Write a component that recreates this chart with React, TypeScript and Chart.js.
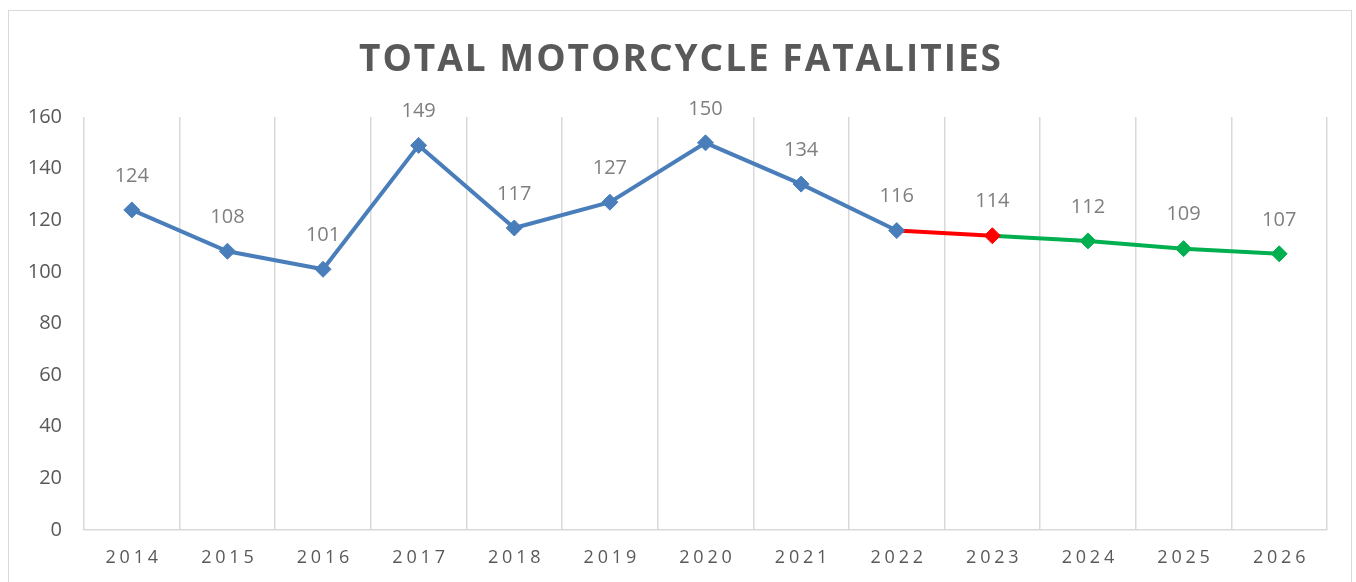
import { useEffect, useRef } from 'react';
import { Chart, registerables } from 'chart.js';

Chart.register(...registerables);

const chartTitle = 'TOTAL MOTORCYCLE FATALITIES';
const years = ['2014', '2015', '2016', '2017', '2018', '2019', '2020', '2021', '2022', '2023', '2024', '2025', '2026'];
const fatalities = [124, 108, 101, 149, 117, 127, 150, 134, 116, 114, 112, 109, 107];
const lastActualYear = '2022';
const firstForecastYear = '2023';
const yMin = 0;
const yMax = 160;
const yStep = 20;

const BLUE = '#4a7ebb';
const RED = '#ff0000';
const GREEN = '#00b050';
const GRID = '#d9d9d9';
const FONT = '"Open Sans", "Liberation Sans", sans-serif';

function colorFor(i: number): string {
  const y = years[i];
  if (y <= lastActualYear) return BLUE;
  if (y === firstForecastYear) return RED;
  return GREEN;
}

const decorPlugin = {
  id: 'decor',
  afterDraw(chart: any) {
    const ctx: CanvasRenderingContext2D = chart.ctx;
    const xs = chart.scales.x;
    const meta = chart.getDatasetMeta(0);
    ctx.save();

    // Title
    ctx.font = `bold 37px ${FONT}`;
    ctx.fillStyle = '#595959';
    ctx.textBaseline = 'middle';
    ctx.textAlign = 'left';
    (ctx as any).letterSpacing = '0px';
    const w0 = ctx.measureText(chartTitle).width;
    const targetW = 642;
    const s = Math.max(0, (targetW - w0) / (chartTitle.length - 1));
    (ctx as any).letterSpacing = `${s}px`;
    ctx.fillText(chartTitle, chart.width / 2 - targetW / 2, 49);

    // X labels with letter spacing
    ctx.font = `18px ${FONT}`;
    const ls = 3.8;
    (ctx as any).letterSpacing = `${ls}px`;
    ctx.fillStyle = '#595959';
    years.forEach((y, i) => {
      const cx = xs.getPixelForValue(i);
      const w = ctx.measureText(y).width - ls;
      ctx.fillText(y, cx - w / 2, 547);
    });

    // Data labels
    (ctx as any).letterSpacing = '0px';
    ctx.font = `20px ${FONT}`;
    ctx.fillStyle = '#7f7f7f';
    ctx.textAlign = 'center';
    meta.data.forEach((pt: any, i: number) => {
      ctx.fillText(String(fatalities[i]), pt.x, pt.y - 34);
    });
    ctx.restore();
  },
};

export default function App() {
  const canvasRef = useRef<HTMLCanvasElement | null>(null);

  useEffect(() => {
    if (!canvasRef.current) return;
    const chart = new Chart(canvasRef.current, {
      type: 'line',
      data: {
        labels: years,
        datasets: [
          {
            data: fatalities,
            borderWidth: 4,
            borderColor: BLUE,
            segment: {
              borderColor: (c: any) => colorFor(c.p1DataIndex),
            },
            pointStyle: 'rectRot',
            pointRadius: 8,
            pointBorderWidth: 1,
            pointBackgroundColor: years.map((_, i) => colorFor(i)),
            pointBorderColor: years.map((_, i) => colorFor(i)),
            tension: 0,
            fill: false,
          },
        ],
      },
      options: {
        animation: false,
        responsive: true,
        maintainAspectRatio: false,
        layout: { padding: { top: 106, right: 24, left: 0, bottom: 0 } },
        plugins: {
          legend: { display: false },
          tooltip: { enabled: false },
          title: { display: false },
        },
        scales: {
          x: {
            type: 'category',
            offset: true,
            grid: { display: true, offset: true, color: GRID, lineWidth: 1.5, drawTicks: false },
            border: { display: true, color: GRID, width: 1.5 },
            ticks: { display: false },
            afterFit: (scale: any) => {
              scale.height = 52;
            },
          },
          y: {
            min: yMin,
            max: yMax,
            grid: { display: false, drawTicks: false },
            border: { display: false },
            ticks: {
              stepSize: yStep,
              padding: 22,
              color: '#595959',
              font: { family: FONT, size: 20 },
            },
            afterFit: (scale: any) => {
              scale.width = 75;
            },
          },
        },
      },
      plugins: [decorPlugin],
    });
    return () => chart.destroy();
  }, []);

  return (
    <div
      style={{
        position: 'fixed',
        left: 8,
        top: 10,
        width: 1344,
        height: 600,
        border: `1px solid ${GRID}`,
        boxSizing: 'border-box',
        background: '#fff',
      }}
    >
      <div style={{ position: 'relative', width: 1342, height: 571 }}>
        <canvas ref={canvasRef} />
      </div>
    </div>
  );
}
